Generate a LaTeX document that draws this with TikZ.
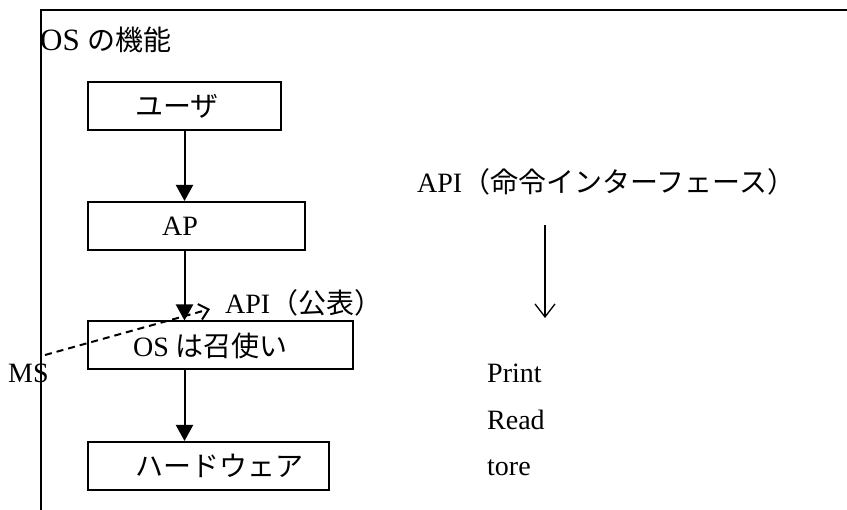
\documentclass[tikz,border=0pt]{standalone}
\usepackage{fontspec}
\setmainfont{Liberation Serif}
\newfontfamily\jp{Noto Sans CJK JP}
\usetikzlibrary{arrows.meta}

\begin{document}
\begin{tikzpicture}[x=1pt,y=-1pt]
\tikzset{kasten/.style={draw, line width=2pt, minimum height=48pt, inner sep=0pt},
  beschr/.style={inner sep=0pt, anchor=west, font=\fontsize{28}{32}\selectfont},
  pfeil/.style={line width=2pt, -{Triangle[length=16pt,width=17pt]}}}
\useasboundingbox (0,0) rectangle (847,510);
\draw[line width=1.8pt] (847,10) -- (41,10) -- (41,510);
\node[beschr, font=\fontsize{31}{36}\selectfont] (titel) at (40,40) {OS {\jp\fontsize{28}{32}\selectfont の機能}};
% linke Spalte
\node[kasten, minimum width=193pt] (U) at (184.5,106) {};
\node[kasten, minimum width=217pt] (AP) at (196.5,226) {};
\node[kasten, minimum width=265pt] (OS) at (220.5,345.5) {};
\node[kasten, minimum width=241pt] (HW) at (208.5,466) {};
\node[beschr] (Ut) at (135,106) {\jp ユーザ};
\node[beschr] (APt) at (162,226) {AP};
\node[beschr] (OSt) at (133,346) {OS {\jp は召使い}};
\node[beschr] (HWt) at (135,466) {\jp ハードウェア};
\draw[pfeil] (U.south) -- (U.south |- AP.north);
\draw[pfeil] (U.south |- AP.south) -- (U.south |- OS.north);
\draw[pfeil] (U.south |- OS.south) -- (U.south |- HW.north);
\node[beschr] (APIk) at (225,303) {API{\jp （公表）}};
\node[beschr] (MS) at (8,373) {MS};
\coordinate (MSend) at (45,355);
\coordinate (APIspitze) at (210,309);
\draw[line width=2pt, dash pattern=on 7pt off 5pt, -{Straight Barb[length=9pt,width=16pt]}] (MSend) -- (APIspitze);
% rechte Spalte
\node[beschr] (API) at (417,182) {API{\jp （命令インターフェース）}};
\coordinate (oben) at (545,225);
\coordinate (unten) at (545,318);
\draw[line width=1.3pt, -{Straight Barb[length=13pt,width=20pt]}] (oben) -- (unten);
\node[beschr] (print) at (487,373) {Print};
\node[beschr] (read) at (487,420) {Read};
\node[beschr] (tore) at (487,468) {tore};
\end{tikzpicture}
\end{document}
